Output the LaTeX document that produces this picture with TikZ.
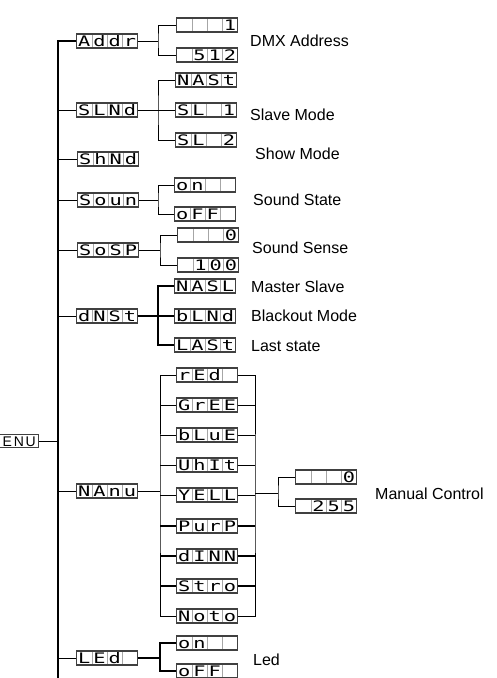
\documentclass[tikz,border=0pt]{standalone}
\usepackage{fontspec}
\setmainfont{Liberation Sans}
\newfontfamily\lcdfont{DejaVu Sans Mono}
\usetikzlibrary{calc}
\newcommand\dg[1]{\makebox[15.25pt]{\scalebox{1.4}[1]{#1}}}
\newcommand\lcd[4]{\dg{#1}\dg{#2}\dg{#3}\dg{#4}}
\newcommand\eg[1]{\makebox[11.8pt]{#1}}
\begin{document}
\begin{tikzpicture}[x=1pt,y=-1pt,
 disp/.style={draw=black!75, line width=1.2pt, fill=white, minimum width=61pt, minimum height=14pt, inner sep=0pt, text height=10.5pt, text depth=0pt, font=\lcdfont\fontsize{14.5}{15}\selectfont,
   path picture={\foreach \i in {1,2,3}{\draw[black!35,line width=0.5pt] ($(path picture bounding box.south west)!\i/4!(path picture bounding box.south east)$) -- ($(path picture bounding box.north west)!\i/4!(path picture bounding box.north east)$);}}},
 enu/.style={draw=black!75, line width=1pt, minimum width=39pt, minimum height=13pt, inner sep=0pt, text height=10pt, text depth=0pt, font=\fontsize{14}{15}\selectfont},
 lbl/.style={anchor=base west, inner sep=0pt, font=\fontsize{16}{18}\selectfont},
 br/.style={line width=1pt},
 brt/.style={line width=1.6pt},
 trunk/.style={line width=2pt}]
\useasboundingbox (0,0) rectangle (497,678);

% left root
\node[enu] (ENU) at (19,441) {\eg{E}\eg{N}\eg{U}};

% top level
\node[disp] (Addr) at (107,41)  {\lcd{A}{d}{d}{r}};
\node[disp] (SLNd) at (107,110) {\lcd{S}{L}{N}{d}};
\node[disp] (ShNd) at (108,159) {\lcd{S}{h}{N}{d}};
\node[disp] (Soun) at (108,200) {\lcd{S}{o}{u}{n}};
\node[disp] (SoSP) at (108,250) {\lcd{S}{o}{S}{P}};
\node[disp] (dNSt) at (107,316) {\lcd{d}{N}{S}{t}};
\node[disp] (NAnu) at (107,491) {\lcd{N}{A}{n}{u}};
\node[disp] (LEd)  at (107,658) {\lcd{L}{E}{d}{}};

% second level
\node[disp] (a1) at (207,25)  {\lcd{}{}{}{1}};
\node[disp] (a2) at (207,55)  {\lcd{}{5}{1}{2}};
\node[disp] (s1) at (206,80)  {\lcd{N}{A}{S}{t}};
\node[disp] (s2) at (206,110) {\lcd{S}{L}{}{1}};
\node[disp] (s3) at (206,140) {\lcd{S}{L}{}{2}};
\node[disp] (so1) at (205,185) {\lcd{o}{n}{}{}};
\node[disp] (so2) at (205,214) {\lcd{o}{F}{F}{}};
\node[disp] (ss1) at (208,235) {\lcd{}{}{}{0}};
\node[disp] (ss2) at (208,265) {\lcd{}{1}{0}{0}};
\node[disp] (d1) at (205,286) {\lcd{N}{A}{S}{L}};
\node[disp] (d2) at (205,316) {\lcd{b}{L}{N}{d}};
\node[disp] (d3) at (205,345) {\lcd{L}{A}{S}{t}};
\node[disp] (m1) at (207,375) {\lcd{r}{E}{d}{}};
\node[disp] (m2) at (207,405) {\lcd{G}{r}{E}{E}};
\node[disp] (m3) at (207,435) {\lcd{b}{L}{u}{E}};
\node[disp] (m4) at (207,465) {\lcd{U}{h}{I}{t}};
\node[disp] (m5) at (207,495) {\lcd{Y}{E}{L}{L}};
\node[disp] (m6) at (207,526) {\lcd{P}{u}{r}{P}};
\node[disp] (m7) at (207,556) {\lcd{d}{I}{N}{N}};
\node[disp] (m8) at (207,586) {\lcd{S}{t}{r}{o}};
\node[disp] (m9) at (207,616) {\lcd{N}{o}{t}{o}};
\node[disp] (mm0)   at (326,477) {\lcd{}{}{}{0}};
\node[disp] (mm255) at (326,506) {\lcd{}{2}{5}{5}};
\node[disp] (l1) at (207,643) {\lcd{o}{n}{}{}};
\node[disp] (l2) at (207,671) {\lcd{o}{F}{F}{}};

% labels
\node[lbl] (tA)  at (250,46.8)  {DMX Address};
\node[lbl] (tS)  at (250,120.8) {Slave Mode};
\node[lbl] (tSh) at (255,159.8) {Show Mode};
\node[lbl] (tSo) at (253,205.8) {Sound State};
\node[lbl] (tSs) at (252,253.8) {Sound Sense};
\node[lbl] (tD1) at (251,292.8) {Master Slave};
\node[lbl] (tD2) at (251,321.8) {Blackout Mode};
\node[lbl] (tD3) at (251,351.8) {Last state};
\node[lbl] (tM)  at (375,499.8) {Manual Control};
\node[lbl] (tL)  at (253,665.8) {Led};

% trunk
\coordinate (T) at (58,41);
\coordinate (Tbot) at (58,682);
\draw[trunk] (Addr.west) -| (Tbot);
\draw[br] (ENU.east) -- (ENU.east -| T);
\foreach \n in {SLNd,ShNd,Soun,SoSP,dNSt,NAnu,LEd}{\draw[br] (\n.west -| T) -- (\n.west);}

% Addr
\coordinate (bA) at (158,41);
\draw[br] (Addr.east) -- (bA);
\draw[br] (a1.west) -| (bA) |- (a2.west);
% SLNd
\coordinate (bS) at (158,110);
\draw[br] (SLNd.east) -- (s2.west);
\draw[br] (s1.west) -| (bS) |- (s3.west);
% Soun
\coordinate (bSo) at (158,200);
\draw[br] (Soun.east) -- (bSo);
\draw[br] (so1.west) -| (bSo) |- (so2.west);
% SoSP
\coordinate (bSs) at (160,250);
\draw[br] (SoSP.east) -- (bSs);
\draw[br] (ss1.west) -| (bSs) |- (ss2.west);
% dNSt
\coordinate (bD) at (158,316);
\draw[brt] (dNSt.east) -- (d2.west);
\draw[brt] (d1.west) -| (bD) |- (d3.west);
% NAnu
\coordinate (bN) at (160,491);
\coordinate (cN) at (255,491);
\draw[br] (NAnu.east) -- (bN);
\draw[br] (m1.west) -| (bN) |- (m9.west);
\draw[br] (m1.east) -| (cN) |- (m9.east);
\foreach \i in {2,3,4,5}{\draw[br] (m\i.west -| bN) -- (m\i.west); \draw[br] (m\i.east) -- (m\i.east -| cN);}
\foreach \i in {6,7,8}{\draw[brt] (m\i.west -| bN) -- (m\i.west); \draw[brt] (m\i.east) -- (m\i.east -| cN);}
\coordinate (bM) at (278,493);
\draw[br] (bM -| cN) -- (bM);
\draw[br] (mm0.west) -| (bM) |- (mm255.west);
% LEd
\coordinate (bL) at (160,658);
\draw[brt] (LEd.east) -- (bL);
\draw[brt] (l1.west) -| (bL) |- (l2.west);
\end{tikzpicture}
\end{document}
